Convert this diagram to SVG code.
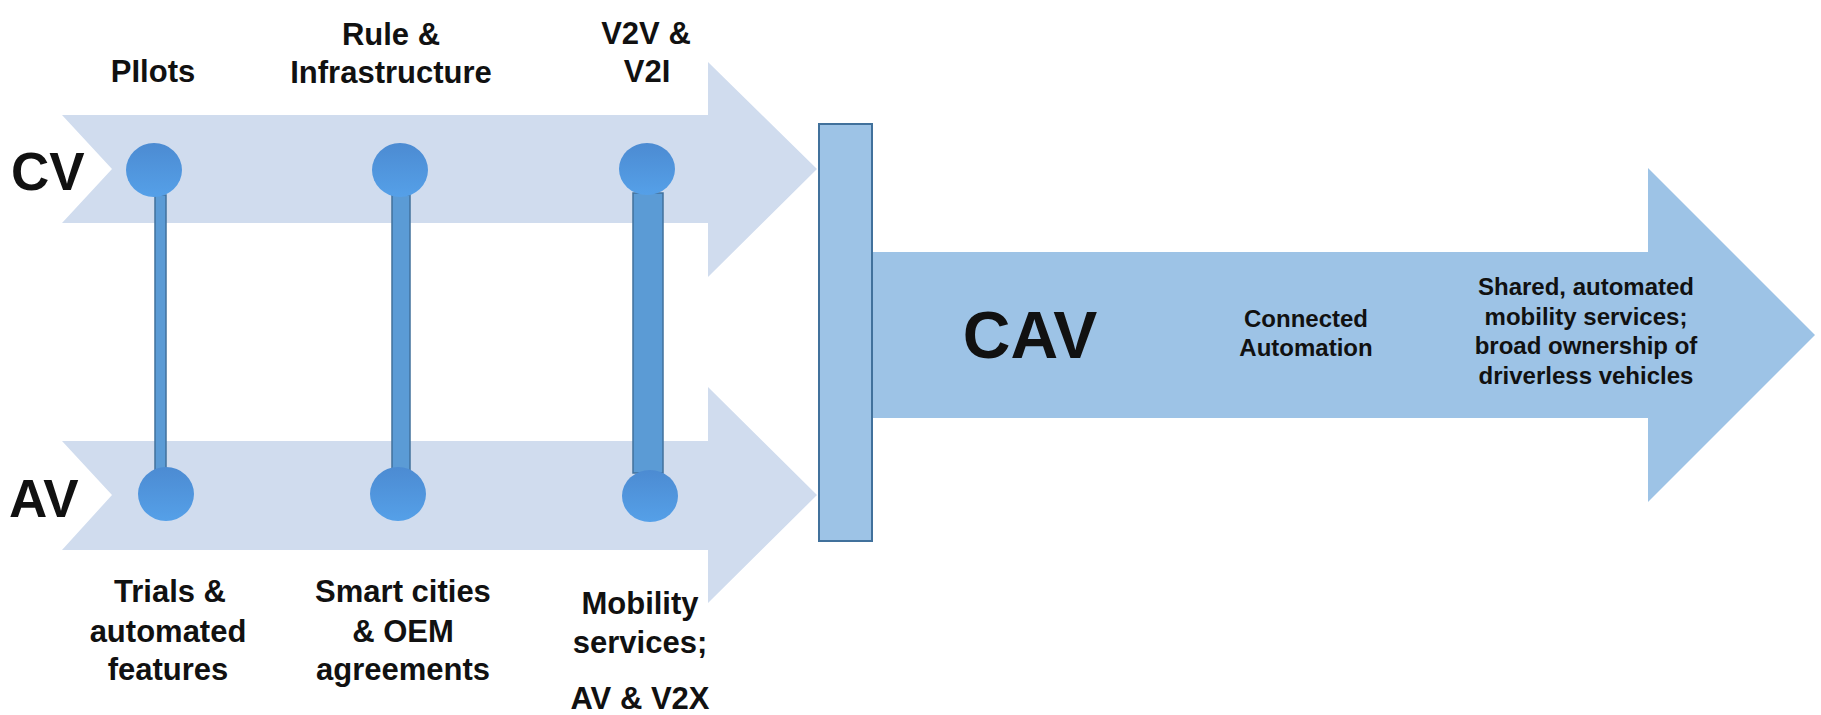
<svg xmlns="http://www.w3.org/2000/svg" width="1821" height="715" viewBox="0 0 1821 715">
<style>
.lane{fill:#D0DCEE;}
.cav{fill:#9DC3E6;}
.gate{fill:#9DC3E6;stroke:#41719C;stroke-width:2;}
.dot{fill:url(#dotGrad);}
.bar{fill:#5B9BD5;stroke:#41719C;stroke-width:1.5;}
text{font-family:"Liberation Sans",Arial,sans-serif;font-weight:bold;fill:#111;text-anchor:middle;}
.lbl{font-size:31px;}
.big{font-size:53px;text-anchor:start;}
.cavt{font-size:66px;}
.sm{font-size:24px;}
</style>
<defs>
<linearGradient id="dotGrad" x1="0" y1="0" x2="0" y2="1">
<stop offset="0" stop-color="#4C8BD2"/>
<stop offset="1" stop-color="#55A0E8"/>
</linearGradient>
</defs>
<rect width="1821" height="715" fill="#FFFFFF"/>

<g id="cv-lane">
<polygon class="lane" points="62,115 708,115 708,62 817,169 708,277 708,223 62,223 112,169"/>
<text class="big" x="11" y="190">CV</text>
</g>
<g id="av-lane">
<polygon class="lane" points="62,441 708,441 708,387 817,495 708,603 708,550 62,550 112,495"/>
<text class="big" x="9" y="517">AV</text>
</g>
<g id="cav-arrow">
<polygon class="cav" points="872,252 1648,252 1648,168 1815,335 1648,502 1648,418 872,418"/>
<text class="cavt" x="1030" y="358">CAV</text>
<text class="sm" x="1306" y="327">Connected</text>
<text class="sm" x="1306" y="356">Automation</text>
<text class="sm" x="1586" y="295">Shared, automated</text>
<text class="sm" x="1586" y="325">mobility services;</text>
<text class="sm" x="1586" y="354">broad ownership of</text>
<text class="sm" x="1586" y="384">driverless vehicles</text>
</g>
<g id="gate">
<rect class="gate" x="819" y="124" width="53" height="417"/>
</g>

<g id="connectors">
<rect class="bar" x="155" y="195" width="11" height="277"/>
<rect class="bar" x="392" y="195" width="18" height="277"/>
<rect class="bar" x="633" y="193" width="30" height="280"/>
</g>

<g id="pilots">
<ellipse class="dot" cx="154" cy="170" rx="28" ry="27"/>
<ellipse class="dot" cx="166" cy="494" rx="28" ry="27"/>
<text class="lbl" x="153" y="82">PIlots</text>
<text class="lbl" x="170" y="602">Trials &amp;</text>
<text class="lbl" x="168" y="642">automated</text>
<text class="lbl" x="168" y="680">features</text>
</g>
<g id="rules">
<ellipse class="dot" cx="400" cy="170" rx="28" ry="27"/>
<ellipse class="dot" cx="398" cy="494" rx="28" ry="27"/>
<text class="lbl" x="391" y="45">Rule &amp;</text>
<text class="lbl" x="391" y="83">Infrastructure</text>
<text class="lbl" x="403" y="602">Smart cities</text>
<text class="lbl" x="403" y="642">&amp; OEM</text>
<text class="lbl" x="403" y="680">agreements</text>
</g>
<g id="v2x">
<ellipse class="dot" cx="647" cy="169" rx="28" ry="26"/>
<ellipse class="dot" cx="650" cy="496" rx="28" ry="26"/>
<text class="lbl" x="646" y="44">V2V &amp;</text>
<text class="lbl" x="647" y="82">V2I</text>
<text class="lbl" x="640" y="614">Mobility</text>
<text class="lbl" x="640" y="653">services;</text>
<text class="lbl" x="640" y="709">AV &amp; V2X</text>
</g>
</svg>
